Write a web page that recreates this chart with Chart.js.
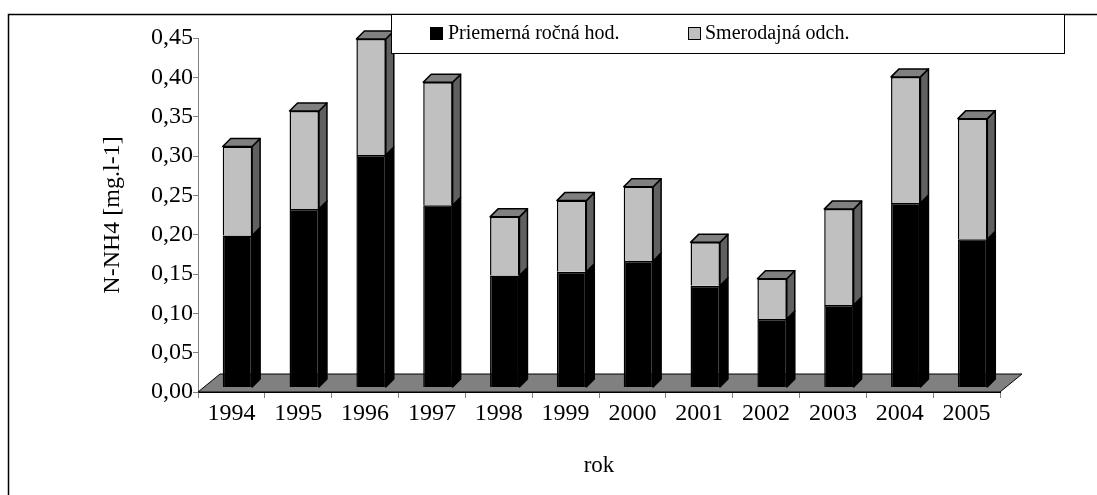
<!DOCTYPE html>
<html>
<head>
<meta charset="utf-8">
<script src="https://cdn.jsdelivr.net/npm/chart.js@4.4.1/dist/chart.umd.min.js"></script>
<style>
  html, body { margin: 0; padding: 0; background: #fff; }
  #wrap { width: 1097px; height: 495px; position: relative; }
</style>
</head>
<body>
<div id="wrap"><canvas id="chart"></canvas></div>
<script>
// data
const years = ['1994', '1995', '1996', '1997', '1998', '1999', '2000', '2001', '2002', '2003', '2004', '2005'];
const meanValues = [0.196, 0.230, 0.300, 0.235, 0.144, 0.149, 0.163, 0.131, 0.088, 0.106, 0.238, 0.191];
const stdValues = [0.115, 0.127, 0.150, 0.159, 0.076, 0.092, 0.096, 0.056, 0.052, 0.124, 0.163, 0.156];
const seriesLabels = ['Priemerná ročná hod.', 'Smerodajná odch.'];
const yTitle = 'N-NH4 [mg.l-1]';
const xTitle = 'rok';

const serif = "'Liberation Serif', 'Times New Roman', serif";

// fake 3D look (Excel style): bars pushed into the floor, with side + top faces
const barShift = 6;      // bars sit a bit behind the front edge
const depth = 8;         // bar depth
const floorDx = 22, floorDy = 18;
const edgeWidth = 1.5;

const sideColors = ['#000000', '#606060'];

const plot3d = {
    id: 'plot3d',
    beforeDatasetsDraw(chart) {
        const ctx = chart.ctx;
        const a = chart.chartArea;
        // floor
        ctx.save();
        ctx.beginPath();
        ctx.moveTo(a.left, a.bottom);
        ctx.lineTo(a.left + floorDx, a.bottom - floorDy);
        ctx.lineTo(a.right + floorDx, a.bottom - floorDy);
        ctx.lineTo(a.right, a.bottom);
        ctx.closePath();
        ctx.fillStyle = '#808080';
        ctx.fill();
        ctx.strokeStyle = '#000';
        ctx.lineWidth = 1;
        ctx.stroke();
        ctx.restore();

        ctx.save();
        ctx.translate(barShift, 0);
    },
    afterDatasetsDraw(chart) {
        const ctx = chart.ctx;
        const last = chart.data.datasets.length - 1;
        ctx.lineWidth = edgeWidth;
        ctx.lineJoin = 'round';
        ctx.strokeStyle = '#000';
        chart.data.datasets.forEach((ds, di) => {
            const meta = chart.getDatasetMeta(di);
            meta.data.forEach(bar => {
                const p = bar.getProps(['x', 'y', 'base', 'width'], true);
                const left = p.x - p.width / 2;
                const right = p.x + p.width / 2;
                const top = Math.min(p.y, p.base);
                const bottom = Math.max(p.y, p.base);
                // side face
                ctx.beginPath();
                ctx.moveTo(right, top);
                ctx.lineTo(right + depth, top - depth);
                ctx.lineTo(right + depth, bottom - depth);
                ctx.lineTo(right, bottom);
                ctx.closePath();
                ctx.fillStyle = sideColors[di];
                ctx.fill();
                ctx.stroke();
                // top face only on the top segment
                if (di === last) {
                    ctx.beginPath();
                    ctx.moveTo(left, top);
                    ctx.lineTo(left + depth, top - depth);
                    ctx.lineTo(right + depth, top - depth);
                    ctx.lineTo(right, top);
                    ctx.closePath();
                    ctx.fillStyle = '#808080';
                    ctx.fill();
                    ctx.stroke();
                }
            });
        });
        ctx.restore();
    },
    afterDraw(chart) {
        const ctx = chart.ctx;
        ctx.save();
        // outer frame (cut off at right / bottom like the original)
        ctx.strokeStyle = '#000';
        ctx.lineWidth = 1.5;
        ctx.strokeRect(8.5, 14.5, 1200, 1200);

        // legend box
        ctx.lineWidth = 1;
        ctx.fillStyle = '#fff';
        ctx.fillRect(391.5, 14.5, 673, 39);
        ctx.strokeRect(391.5, 14.5, 673, 39);
        const items = [{ sx: 430, tx: 448 }, { sx: 688, tx: 705 }];
        ctx.font = '20px ' + serif;
        ctx.textBaseline = 'middle';
        chart.data.datasets.forEach((ds, i) => {
            ctx.fillStyle = ds.backgroundColor;
            ctx.fillRect(items[i].sx + 0.5, 27.5, 12, 12);
            ctx.strokeRect(items[i].sx + 0.5, 27.5, 12, 12);
            ctx.fillStyle = '#000';
            ctx.fillText(ds.label, items[i].tx, 34);
        });
        ctx.restore();
    }
};

const ctx = document.getElementById('chart').getContext('2d');
const chart = new Chart(ctx, {
    type: 'bar',
    data: {
        labels: years,
        datasets: [{
            label: seriesLabels[0],
            data: meanValues,
            backgroundColor: '#000000',
            borderColor: '#000000',
            borderWidth: edgeWidth,
            yAxisID: 'yb',
            clip: false
        }, {
            label: seriesLabels[1],
            data: stdValues,
            backgroundColor: '#C0C0C0',
            borderColor: '#000000',
            borderWidth: edgeWidth,
            yAxisID: 'yb',
            clip: false
        }]
    },
    options: {
        responsive: true,
        maintainAspectRatio: false,
        animation: false,
        layout: { padding: { top: 38, right: 97, bottom: 0, left: 0 } },
        plugins: {
            legend: { display: false },
            tooltip: { enabled: false }
        },
        datasets: {
            bar: { categoryPercentage: 1, barPercentage: 0.44 }
        },
        scales: {
            x: {
                stacked: true,
                grid: { display: true, drawOnChartArea: false, drawTicks: true, tickLength: 6, color: '#808080', offset: true },
                border: { display: true, color: '#000' },
                ticks: { color: '#000', font: { family: serif, size: 24 }, padding: 1, maxRotation: 0, autoSkip: false },
                title: { display: true, text: xTitle, color: '#000', font: { family: serif, size: 23 }, padding: { top: 0, bottom: 15 } },
                afterFit(scale) { scale.height = 103; }
            },
            y: {
                position: 'left',
                min: 0,
                max: 0.45,
                grid: { display: true, drawOnChartArea: false, drawTicks: true, tickLength: 5, color: '#808080' },
                border: { display: true, color: '#808080' },
                ticks: {
                    stepSize: 0.05,
                    color: '#000',
                    font: { family: serif, size: 24 },
                    padding: 0,
                    callback: v => v.toFixed(2).replace('.', ',')
                },
                title: { display: true, text: yTitle, color: '#000', font: { family: serif, size: 24 }, padding: { top: 98, bottom: 0 } },
                afterFit(scale) { scale.width = 198; }
            },
            // bars use their own (hidden) value scale, they stand a bit behind the axis plane
            yb: {
                display: false,
                stacked: true,
                min: -0.0065,
                max: 0.4513
            }
        }
    },
    plugins: [plot3d]
});
</script>
</body>
</html>
